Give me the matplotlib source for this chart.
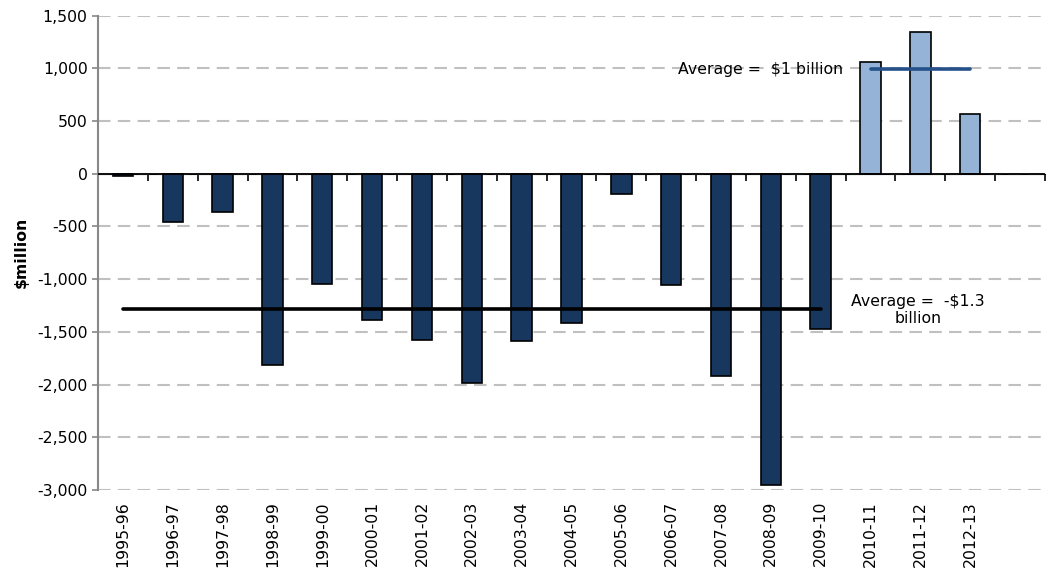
import matplotlib
matplotlib.use("Agg")
import matplotlib.pyplot as plt
import numpy as np

# $million per year
years = ["1995-96", "1996-97", "1997-98", "1998-99", "1999-00", "2000-01",
         "2001-02", "2002-03", "2003-04", "2004-05", "2005-06", "2006-07",
         "2007-08", "2008-09", "2009-10", "2010-11", "2011-12", "2012-13"]
values = [-20, -455, -365, -1815, -1045, -1385, -1575, -1985, -1590, -1420,
          -190, -1060, -1915, -2950, -1475, 1060, 1345, 570]
n_neg = 15  # first 15 years are the dark series
avg_neg = -1285
avg_pos = 990

navy = "#17375e"
light = "#95b3d7"

plt.rcParams["font.family"] = "DejaVu Sans"
plt.rcParams["axes.unicode_minus"] = False
fs = 11.3

fig = plt.figure(figsize=(10.49, 5.68), dpi=100)
ax = fig.add_axes([0.0934, 0.1373, 0.9028, 0.8354])

x = np.arange(len(years))
colors = [navy] * n_neg + [light] * (len(years) - n_neg)
ax.bar(x, values, width=0.41, color=colors, edgecolor="black", linewidth=1.2, zorder=3)

# average lines
ax.plot([x[0], x[n_neg - 1]], [avg_neg, avg_neg], color="black", lw=2.6,
        solid_capstyle="round", zorder=4)
ax.plot([x[n_neg], x[-1]], [avg_pos, avg_pos], color="#25508a", lw=2.6,
        solid_capstyle="round", zorder=4)

ax.text(14.45, avg_pos, "Average =  $1 billion", ha="right", va="center", fontsize=fs)
ax.text(15.95, -1295, "Average =  -$1.3\nbillion", ha="center", va="center",
        multialignment="center", fontsize=fs)

ax.set_xlim(-0.5, len(years) + 0.5)
ax.set_ylim(-3000, 1500)
ax.set_yticks(np.arange(-3000, 1501, 500))
ax.yaxis.set_major_formatter(matplotlib.ticker.StrMethodFormatter("{x:,.0f}"))
ax.grid(axis="y", color="#c0c0c0", linestyle=(0, (6, 3.5)), lw=1.5, zorder=0)

ax.set_xticks(x)
ax.set_xticklabels(years, rotation=90, fontsize=fs)
ax.tick_params(axis="x", length=0, pad=8)
ax.tick_params(axis="y", colors="#888888", labelcolor="black", labelsize=fs,
               length=4, width=1.2)
for s in ["top", "right", "bottom"]:
    ax.spines[s].set_visible(False)
ax.spines["left"].set_color("#888888")
ax.spines["left"].set_linewidth(1.5)

# zero line with category boundary ticks
ax.axhline(0, color="black", lw=1.3, zorder=5)
ylo, yhi = ax.get_ylim()
zero_ax = ax.secondary_xaxis((0 - ylo) / (yhi - ylo))
zero_ax.xaxis.set_ticks_position("bottom")
zero_ax.set_xticks(np.arange(-0.5, len(years) + 0.6, 1.0))
zero_ax.set_xticklabels([])
zero_ax.tick_params(length=5, width=1.2, color="black", direction="out")
zero_ax.spines["bottom"].set_linewidth(1.3)
zero_ax.spines["bottom"].set_color("black")

ax.set_ylabel("$million", fontsize=fs, fontweight="bold", labelpad=6)

fig.savefig("out.png", dpi=100)
